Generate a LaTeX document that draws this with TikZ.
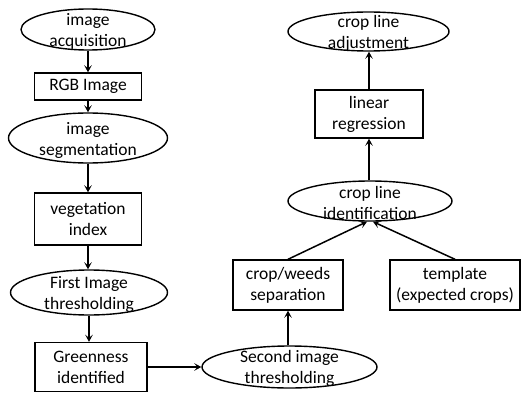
\documentclass[tikz,border=0pt]{standalone}
\usepackage{fontspec}
\setmainfont{Carlito}
\usetikzlibrary{shapes.geometric,arrows.meta}
\tikzset{
  txt/.style={align=center, font=\fontsize{17.5}{21}\selectfont, inner sep=0pt},
  base/.style={draw=black, line width=1.4pt, inner sep=0pt},
  ell/.style={base, ellipse},
  box/.style={base, txt, rectangle},
  conn/.style={line width=1.5pt, -{Stealth[length=7pt,width=7.5pt,inset=3pt]}},
}
\begin{document}
\begin{tikzpicture}[x=1pt,y=1pt]
\useasboundingbox (0,0) rectangle (521,-393);
% left column
\node[ell, minimum width=134pt, minimum height=41pt] (acq) at (88,-29.5) {};
\node[txt] (acqT) at ([yshift=-1.5pt]acq.center) {image\\acquisition};
\node[box, minimum width=107pt, minimum height=27pt] (rgb) at (88,-86.5) {RGB Image};
\node[ell, minimum width=159pt, minimum height=50pt] (seg) at (88,-138) {};
\node[txt] (segT) at ([yshift=-2pt]seg.center) {image\\segmentation};
\node[box, minimum width=107pt, minimum height=52pt] (veg) at (88,-219) {vegetation\\index};
\node[ell, minimum width=157pt, minimum height=45pt] (first) at (89,-292.5) {};
\node[txt] (firstT) at ([yshift=-1.5pt]first.center) {First Image\\thresholding};
\node[box, minimum width=112pt, minimum height=49pt] (green) at (91,-367) {Greenness\\identified};
% bottom / right
\node[ell, minimum width=175pt, minimum height=42pt] (second) at (289.5,-367) {};
\node[txt] (secondT) at ([yshift=-1.5pt]second.center) {Second image\\thresholding};
\node[box, minimum width=110pt, minimum height=50pt] (sep) at (288,-285) {crop/weeds\\separation};
\node[box, minimum width=130pt, minimum height=50pt] (tmpl) at (455,-285) {template\\(expected crops)};
\node[ell, minimum width=164pt, minimum height=40pt] (ident) at (370,-201) {};
\node[txt] (identT) at ([yshift=-1.5pt]ident.center) {crop line\\identification};
\node[box, minimum width=108pt, minimum height=48pt] (linreg) at (369,-114) {linear\\regression};
\node[ell, minimum width=161pt, minimum height=39pt] (adj) at (368.5,-31.5) {};
\node[txt] (adjT) at ([yshift=-1.5pt]adj.center) {crop line\\adjustment};
% connectors
\draw[conn] (acq.south -| rgb.north) -- (rgb.north);
\draw[conn] (rgb.south) -- (rgb.south |- seg.north);
\draw[conn] (seg.south) -- (seg.south |- veg.north);
\draw[conn] (veg.south) -- (veg.south |- first.north);
\draw[conn] (first.south) -- (first.south |- green.north);
\draw[conn] (green.east) -- (second.west);
\draw[conn] (second.north -| sep.south) -- (sep.south);
\draw[conn] (sep.north) -- ([xshift=-3pt]ident.south);
\draw[conn] (tmpl.north) -- ([xshift=3pt]ident.south);
\draw[conn] (ident.north -| linreg.south) -- (linreg.south);
\draw[conn] (linreg.north) -- (linreg.north |- adj.south);
\end{tikzpicture}
\end{document}
